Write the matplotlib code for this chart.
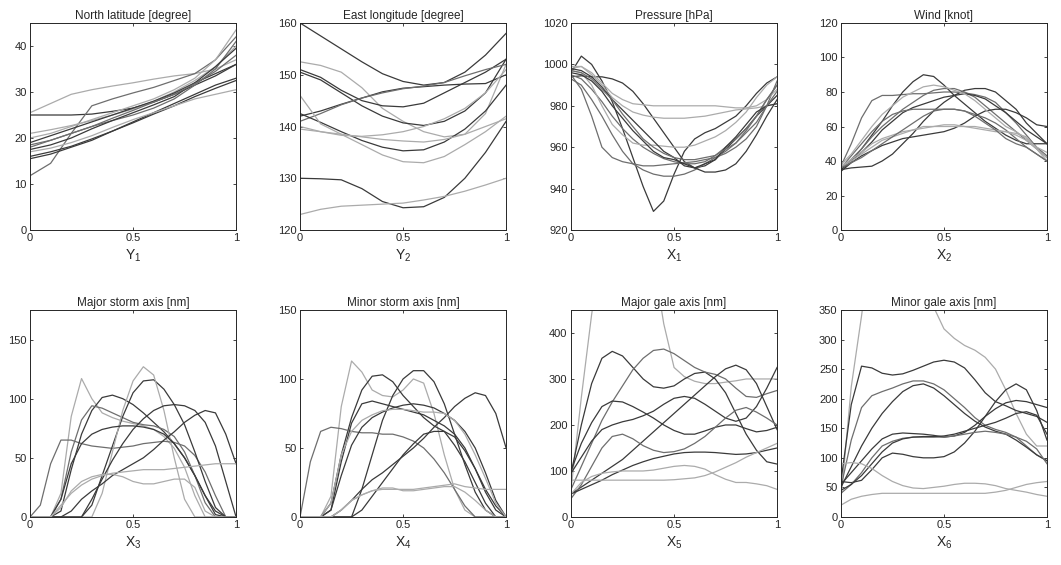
import matplotlib
matplotlib.use('Agg')
import matplotlib.pyplot as plt

plt.rcParams['font.family'] = ['Liberation Sans', 'DejaVu Sans']
plt.rcParams['mathtext.fontset'] = 'custom'
plt.rcParams['mathtext.rm'] = 'Liberation Sans'
plt.rcParams['mathtext.it'] = 'Liberation Sans'

# x grids (normalised time)
x11 = [i / 10 for i in range(11)]
x21 = [i / 20 for i in range(21)]

# shades used for the curves
dk, md, lt = '#3a3a3a', '#6e6e6e', '#ababab'

lat = [
    ([25, 25, 25, 25.2, 25.8, 26.5, 27.8, 29.5, 31.5, 33.5, 36], dk),
    ([25.5, 27.5, 29.5, 30.5, 31.3, 32, 32.8, 33.5, 34, 35, 37], lt),
    ([11.8, 14.5, 21, 27, 28.5, 29.8, 31, 32.5, 34, 37, 42], md),
    ([21, 21.8, 22.7, 23.8, 25, 26.3, 28, 30, 32.5, 35.5, 40], lt),
    ([18, 19.5, 21, 22.5, 23.8, 25, 26.5, 28.5, 31.5, 35, 41], md),
    ([15.5, 16.5, 18, 19.5, 21.5, 23.5, 25.5, 27.5, 29.5, 31.5, 33], dk),
    ([16, 17, 18.2, 19.8, 21.5, 23.3, 25.2, 27, 29, 30.8, 32.5], dk),
    ([19, 20.5, 22, 23.5, 25, 26.5, 28, 29.8, 32, 34, 36], dk),
    ([17.5, 18.5, 20, 22, 23.8, 25.5, 27.2, 29, 32, 35.5, 39.5], dk),
    ([17, 17.8, 19, 20.5, 22.3, 24, 25.5, 27, 28.5, 29.5, 30.5], lt),
    ([20, 21, 22.5, 24, 25.5, 27, 28.5, 30.5, 33, 37, 43.5], lt),
    ([18.5, 19.5, 21, 22.5, 24.3, 26, 27.8, 29.5, 31.8, 34.5, 38], md),
]

lon = [
    ([160, 157.5, 155, 152.5, 150.2, 148.7, 148, 148.5, 150.5, 153.8, 158], dk),
    ([152.5, 151.8, 150.5, 147.5, 143.5, 141, 139, 138, 138.5, 142.5, 152], lt),
    ([151, 149.5, 147, 145, 144, 143.8, 144.5, 146.5, 148.5, 150.5, 153], dk),
    ([150.5, 149, 146.5, 144, 142, 140.7, 140.2, 141, 143, 146.5, 153], dk),
    ([142, 143, 144.3, 145.5, 146.7, 147.4, 147.7, 148, 148.2, 148.3, 150], dk),
    ([141, 142.5, 144.2, 145.5, 146.5, 147.3, 147.8, 148.5, 149.8, 151, 152], md),
    ([142.5, 140.8, 139, 137.3, 136, 135.3, 135.5, 137, 139.5, 143, 148], dk),
    ([140, 139, 138.3, 138.1, 138.4, 139, 140, 141.5, 143.5, 146.5, 151], lt),
    ([146, 140.5, 138.5, 136.5, 134.5, 133.2, 133, 134.2, 136.5, 139, 142], lt),
    ([130, 129.9, 129.7, 128, 125.5, 124.3, 124.5, 126.3, 130, 135, 141], dk),
    ([123, 124, 124.6, 124.8, 125, 125.2, 125.8, 126.5, 127.5, 128.7, 130], lt),
    ([139.5, 139, 138.5, 138, 137.5, 137.2, 137, 137.5, 138.5, 140, 141.5], lt),
]

pres = [
    ([996, 1004, 1000, 992, 982, 969, 955, 941, 929, 934, 947, 958, 964, 967, 969, 972, 975, 980, 986, 991, 994], dk),
    ([994, 994.5, 994, 994, 993, 991, 987, 981, 974, 967, 960, 953, 950, 951, 954, 959, 964, 969, 975, 980, 985], dk),
    ([995, 988, 975, 960, 955, 953, 952, 951, 951, 951.5, 952, 952.5, 953, 954, 955, 957, 960, 964, 970, 980, 992], md),
    ([998, 999, 996, 991, 986, 983, 981, 980.5, 980, 980, 980, 980, 980, 980, 980, 979.5, 979, 979, 980, 983, 988], lt),
    ([999, 999, 995, 990, 984, 980, 977, 975.5, 974.5, 974, 974, 974, 974.5, 975, 976, 977, 978, 978.5, 979, 980, 981], lt),
    ([995, 993, 988, 982, 975, 969, 964, 960, 957, 954.5, 953, 952, 952, 953, 956, 960, 964, 969, 975, 983, 990], md),
    ([997, 996, 990, 980, 971, 966, 962, 961, 961, 960.5, 960, 960, 961, 963, 965, 968, 972, 977, 984, 990, 994], lt),
    ([993, 990, 983, 975, 966, 958, 952, 949, 947, 946, 946, 947, 949, 952, 955, 958, 962, 968, 975, 983, 990], md),
    ([996, 995, 992, 987, 980, 974, 968, 963, 958, 955, 954, 952, 950, 948, 948, 949, 952, 958, 966, 975, 983], dk),
    ([998, 997, 994, 989, 983, 978, 973, 968, 963, 958, 955, 951, 950, 952, 954, 960, 965, 971, 977, 980, 981], dk),
    ([997, 996, 993, 988, 983, 976, 970, 964, 960, 957, 955, 954, 954, 955, 956, 959, 962, 967, 972, 980, 987], md),
]

wind = [
    ([37, 50, 65, 75, 78, 78, 78.5, 79, 79, 79.5, 80, 80, 79.5, 78.5, 77, 74, 68, 62, 55, 48, 43], md),
    ([35, 40, 47, 55, 63, 72, 80, 86, 90, 89, 84, 78, 73, 68, 63, 59, 55, 52, 50, 50, 50], dk),
    ([35, 36, 36.5, 37, 40, 44, 50, 56, 63, 69, 74, 78, 81, 82, 82, 80, 75, 70, 62, 56, 50], dk),
    ([35, 41, 47, 54, 60, 65, 70, 74, 78, 81, 82, 82, 80, 77, 72, 67, 62, 57, 52, 47, 42], md),
    ([35, 40, 45, 51, 58, 63, 68, 71, 73, 75, 77, 78, 79, 78, 76, 72, 68, 63, 58, 54, 50], dk),
    ([36, 43, 50, 57, 63, 67, 69, 70, 70, 70, 70, 70, 69, 67, 65, 62, 58, 53, 48, 44, 40], md),
    ([34, 39, 43, 46, 49, 51, 53, 54, 55, 56, 57, 59, 62, 66, 69, 70, 70, 68, 65, 61, 60], dk),
    ([36, 40, 44, 48, 52, 54, 56, 58, 59, 60, 61, 61, 60, 60, 59, 58, 57, 55, 52, 47, 42], lt),
    ([37, 41, 45, 50, 53, 55, 57, 58, 60, 60, 60, 60, 60, 59, 58, 57, 57, 56, 54, 47, 40], lt),
    ([36, 39, 42, 46, 50, 54, 58, 62, 66, 69, 70, 70, 69, 66, 62, 58, 53, 50, 48, 44, 40], md),
    ([38, 44, 52, 60, 67, 72, 77, 80, 83, 84, 83, 81, 79, 75, 70, 65, 60, 57, 53, 48, 45], lt),
]

major_storm = [
    ([0, 0, 0, 20, 85, 117, 100, 88, 84, 81, 79, 77, 74, 68, 58, 42, 18, 0, 0, 0, 0], lt),
    ([0, 10, 45, 65, 65, 62, 60, 59, 58, 59, 60, 62, 63, 64, 63, 60, 52, 38, 18, 0, 0], md),
    ([0, 0, 0, 5, 40, 70, 90, 101, 103, 100, 95, 88, 80, 72, 62, 50, 35, 18, 2, 0, 0], dk),
    ([0, 0, 0, 15, 55, 82, 94, 92, 88, 84, 80, 78, 77, 74, 68, 55, 35, 12, 0, 0, 0], md),
    ([0, 0, 0, 0, 0, 0, 10, 35, 60, 85, 105, 115, 116, 108, 95, 78, 55, 30, 8, 0, 0], dk),
    ([0, 0, 0, 0, 0, 0, 0, 20, 55, 90, 115, 127, 120, 90, 50, 15, 0, 0, 0, 0, 0], lt),
    ([0, 0, 0, 15, 45, 62, 70, 74, 76, 77, 77, 76, 74, 70, 62, 50, 35, 18, 5, 0, 0], dk),
    ([0, 0, 0, 0, 5, 15, 22, 28, 35, 40, 45, 50, 57, 65, 72, 80, 86, 90, 88, 70, 45], dk),
    ([0, 0, 0, 0, 0, 0, 15, 32, 48, 62, 74, 83, 90, 94, 95, 94, 90, 80, 60, 30, 0], dk),
    ([0, 0, 0, 10, 20, 27, 32, 35, 37, 38, 39, 40, 40, 40, 41, 42, 43, 44, 45, 45, 45], lt),
    ([0, 0, 0, 8, 22, 30, 34, 36, 36, 34, 30, 28, 28, 30, 32, 32, 25, 5, 0, 0, 0], lt),
]

minor_storm = [
    ([0, 0, 0, 15, 80, 113, 105, 92, 88, 87, 92, 100, 97, 75, 45, 20, 5, 0, 0, 0, 0], lt),
    ([0, 0, 0, 10, 45, 72, 92, 102, 103, 98, 88, 80, 72, 66, 62, 52, 40, 25, 10, 0, 0], dk),
    ([0, 0, 0, 0, 0, 0, 20, 45, 70, 88, 100, 106, 106, 98, 82, 60, 38, 18, 5, 0, 0], dk),
    ([0, 40, 62, 65, 64, 62, 61, 61, 60, 60, 58, 55, 50, 42, 32, 20, 8, 0, 0, 0, 0], md),
    ([0, 0, 0, 5, 40, 68, 82, 84, 82, 80, 78, 76, 74, 70, 66, 60, 50, 35, 18, 5, 0], dk),
    ([0, 0, 0, 5, 30, 52, 65, 72, 76, 79, 81, 82, 81, 79, 75, 70, 62, 50, 32, 12, 0], dk),
    ([0, 0, 0, 0, 5, 12, 20, 27, 32, 38, 44, 50, 57, 65, 72, 80, 86, 90, 88, 75, 50], dk),
    ([0, 0, 0, 0, 0, 0, 5, 15, 25, 35, 45, 53, 60, 62, 62, 58, 48, 35, 20, 8, 0], dk),
    ([0, 0, 0, 0, 5, 12, 16, 19, 20, 20, 20, 20, 21, 22, 23, 24, 22, 21, 20, 20, 20], lt),
    ([0, 0, 0, 0, 5, 12, 16, 19, 21, 21, 19, 19, 20, 21, 22, 22, 18, 12, 5, 0, 0], lt),
    ([0, 0, 0, 10, 45, 62, 70, 74, 77, 78, 78, 77, 76, 76, 75, 70, 60, 45, 28, 10, 0], lt),
]

major_gale = [
    ([60, 260, 440, 600, 700, 750, 750, 700, 560, 420, 325, 305, 295, 290, 290, 293, 296, 300, 300, 300, 300], lt),
    ([95, 200, 290, 345, 360, 350, 325, 300, 283, 280, 285, 300, 312, 315, 300, 270, 225, 180, 145, 120, 115], dk),
    ([60, 110, 160, 210, 250, 285, 320, 345, 362, 365, 355, 340, 325, 315, 310, 300, 280, 262, 260, 268, 275], md),
    ([100, 160, 205, 240, 252, 250, 240, 228, 215, 200, 188, 180, 180, 187, 195, 200, 200, 192, 185, 188, 195], dk),
    ([95, 130, 165, 190, 200, 207, 212, 220, 230, 245, 258, 262, 258, 245, 230, 215, 208, 215, 240, 280, 325], dk),
    ([50, 65, 80, 95, 110, 125, 145, 165, 185, 205, 225, 245, 265, 285, 305, 322, 330, 320, 290, 240, 190], dk),
    ([40, 70, 110, 150, 175, 180, 170, 155, 145, 140, 142, 148, 160, 175, 195, 215, 232, 238, 228, 215, 200], md),
    ([50, 60, 70, 80, 92, 102, 112, 120, 127, 132, 137, 140, 141, 141, 140, 138, 136, 137, 140, 145, 150], dk),
    ([50, 75, 88, 95, 98, 100, 100, 100, 102, 106, 110, 112, 110, 104, 92, 82, 75, 75, 72, 68, 60], lt),
    ([80, 80, 80, 80, 80, 80, 80, 80, 80, 80, 81, 83, 85, 90, 98, 108, 118, 130, 140, 150, 160], lt),
]

minor_gale = [
    ([30, 220, 340, 480, 600, 640, 620, 550, 440, 355, 318, 302, 290, 282, 270, 250, 215, 175, 140, 120, 120], lt),
    ([60, 190, 255, 252, 243, 240, 242, 248, 255, 262, 265, 262, 252, 232, 210, 195, 188, 180, 175, 170, 160], dk),
    ([50, 130, 185, 205, 212, 218, 225, 230, 230, 225, 215, 200, 185, 168, 155, 148, 143, 135, 120, 105, 95], md),
    ([50, 85, 120, 150, 175, 195, 212, 222, 225, 218, 205, 190, 175, 162, 152, 145, 140, 130, 118, 105, 95], dk),
    ([55, 75, 95, 115, 132, 140, 142, 141, 140, 138, 135, 137, 143, 155, 170, 183, 193, 197, 195, 190, 185], dk),
    ([60, 58, 62, 80, 100, 108, 106, 102, 100, 100, 102, 110, 125, 145, 170, 195, 215, 225, 215, 180, 130], dk),
    ([40, 55, 75, 100, 120, 128, 133, 135, 135, 135, 135, 137, 140, 143, 145, 143, 140, 135, 128, 115, 90], md),
    ([45, 55, 70, 90, 110, 125, 132, 135, 136, 136, 137, 140, 145, 150, 155, 160, 167, 175, 178, 172, 140], dk),
    ([90, 92, 90, 82, 70, 60, 53, 49, 48, 50, 52, 55, 57, 57, 56, 53, 48, 45, 42, 38, 35], lt),
    ([20, 30, 35, 38, 40, 40, 40, 40, 40, 40, 40, 40, 40, 40, 40, 42, 45, 50, 55, 58, 60], lt),
]

titles = ['North latitude [degree]', 'East longitude [degree]', 'Pressure [hPa]', 'Wind [knot]',
          'Major storm axis [nm]', 'Minor storm axis [nm]', 'Major gale axis [nm]', 'Minor gale axis [nm]']
xlabels = ['Y$_1$', 'Y$_2$', 'X$_1$', 'X$_2$', 'X$_3$', 'X$_4$', 'X$_5$', 'X$_6$']
series = [lat, lon, pres, wind, major_storm, minor_storm, major_gale, minor_gale]
grids = [x11, x11, x21, x21, x21, x21, x21, x21]
ylims = [(0, 45), (120, 160), (920, 1020), (0, 120), (0, 175), (0, 150), (0, 450), (0, 350)]
yticks = [range(0, 41, 10), range(120, 161, 10), range(920, 1021, 20), range(0, 121, 20),
          range(0, 151, 50), range(0, 151, 50), range(0, 401, 100), range(0, 351, 50)]

fig = plt.figure(figsize=(10.61, 5.65), dpi=100)
lefts = [0.0283, 0.2828, 0.5382, 0.7926]
bottoms = [0.5929, 0.085]
txt = '#262626'

for i in range(8):
    ax = fig.add_axes([lefts[i % 4], bottoms[i // 4], 0.1942, 0.3664])
    for ys, c in series[i]:
        ax.plot(grids[i], ys, color=c, lw=0.9)
    ax.set_xlim(0, 1)
    ax.set_ylim(*ylims[i])
    ax.set_xticks([0, 0.5, 1])
    ax.set_xticklabels(['0', '0.5', '1'])
    ax.set_yticks(list(yticks[i]))
    ax.tick_params(direction='in', length=2.5, width=0.6, labelsize=8, colors=txt,
                   top=True, right=True, pad=2.5)
    for s in ax.spines.values():
        s.set_color(txt)
        s.set_linewidth(0.7)
    ax.set_title(titles[i], fontsize=8.5, color=txt, pad=3)
    ax.set_xlabel(xlabels[i], fontsize=10, color=txt, labelpad=3)

plt.savefig('out.png', dpi=100)
